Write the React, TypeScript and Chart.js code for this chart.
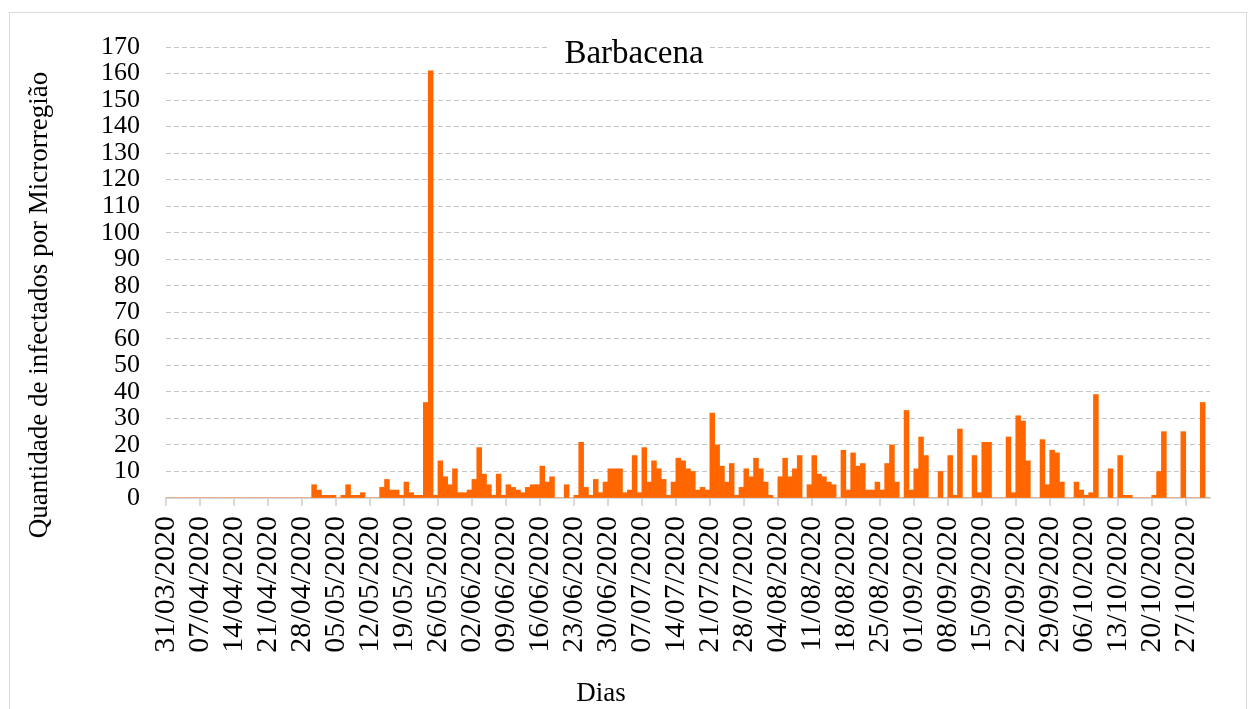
import React, { useEffect, useRef } from 'react';
import { Chart, registerables } from 'chart.js';

Chart.register(...registerables);

// ---- Data (daily new infections, Barbacena micro-region) ----
const march31 = [0];
const april = [
  0, 0, 0, 0, 0, 0, 0, 0, 0, 0, 0, 0, 0, 0, 0, 0, 0, 0, 0, 0, 0, 0, 0, 0, 0, 0, 0, 0, 0, 5,
];
const may = [
  3, 1, 1, 1, 0, 1, 5, 1, 1, 2, 0, 0, 0, 4, 7, 3, 3, 1, 6, 2, 1, 1, 36, 161, 1, 14, 8, 5, 11, 2, 2,
];
const june = [
  3, 7, 19, 9, 5, 1, 9, 1, 5, 4, 3, 2, 4, 5, 5, 12, 6, 8, 0, 0, 5, 0, 1, 21, 4, 1, 7, 2, 6, 11,
];
const july = [
  11, 11, 2, 3, 16, 2, 19, 6, 14, 11, 7, 1, 6, 15, 14, 11, 10, 3, 4, 3, 32, 20, 12, 6, 13, 1, 4, 11, 8, 15, 11,
];
const august = [
  6, 1, 0, 8, 15, 8, 11, 16, 0, 5, 16, 9, 8, 6, 5, 0, 18, 3, 17, 12, 13, 3, 3, 6, 3, 13, 20, 6, 0, 33, 3,
];
const september = [
  11, 23, 16, 0, 0, 10, 0, 16, 1, 26, 0, 0, 16, 2, 21, 21, 0, 0, 0, 23, 2, 31, 29, 14, 0, 0, 22, 5, 18, 17,
];
const october = [
  6, 0, 0, 6, 3, 1, 2, 39, 0, 0, 11, 0, 16, 1, 1, 0, 0, 0, 0, 1, 10, 25, 0, 0, 0, 25, 0, 0, 0, 36, 0,
];

const weekTickLabels = [
  '31/03/2020', '07/04/2020', '14/04/2020', '21/04/2020', '28/04/2020',
  '05/05/2020', '12/05/2020', '19/05/2020', '26/05/2020', '02/06/2020',
  '09/06/2020', '16/06/2020', '23/06/2020', '30/06/2020', '07/07/2020',
  '14/07/2020', '21/07/2020', '28/07/2020', '04/08/2020', '11/08/2020',
  '18/08/2020', '25/08/2020', '01/09/2020', '08/09/2020', '15/09/2020',
  '22/09/2020', '29/09/2020', '06/10/2020', '13/10/2020', '20/10/2020',
  '27/10/2020',
];

const yTicks = { min: 0, max: 170, step: 10 };

const chartTitle = 'Barbacena';
const xTitle = 'Dias';
const yTitle = 'Quantidade de infectados por Microrregião';

const values = [...march31, ...april, ...may, ...june, ...july, ...august, ...september, ...october];

function buildDayLabels(n: number): string[] {
  const out: string[] = [];
  const d = new Date(Date.UTC(2020, 2, 31));
  for (let i = 0; i < n; i++) {
    const dd = String(d.getUTCDate()).padStart(2, '0');
    const mm = String(d.getUTCMonth() + 1).padStart(2, '0');
    out.push(`${dd}/${mm}/${d.getUTCFullYear()}`);
    d.setUTCDate(d.getUTCDate() + 1);
  }
  return out;
}

const dayLabels = buildDayLabels(values.length);
const tickSet = new Set(weekTickLabels);

const FONT = "'Liberation Serif', 'Times New Roman', serif";

const titlesPlugin = {
  id: 'customTitles',
  afterDraw(chart: any) {
    const ctx = chart.ctx as CanvasRenderingContext2D;
    ctx.save();
    ctx.fillStyle = '#ffffff';
    ctx.fillRect(548, 36, 160, 32);
    ctx.fillStyle = '#000000';
    ctx.textAlign = 'center';
    ctx.textBaseline = 'alphabetic';
    ctx.font = `33px ${FONT}`;
    ctx.fillText(chartTitle, 634, 63);
    ctx.font = `27px ${FONT}`;
    ctx.fillText(xTitle, 601, 701);
    ctx.translate(47, 305);
    ctx.rotate(-Math.PI / 2);
    ctx.fillText(yTitle, 0, 0);
    ctx.restore();
  },
};

export default function App() {
  const canvasRef = useRef<HTMLCanvasElement | null>(null);

  useEffect(() => {
    if (!canvasRef.current) return;
    const chart = new Chart(canvasRef.current, {
      type: 'bar',
      data: {
        labels: dayLabels,
        datasets: [
          {
            data: values,
            backgroundColor: '#FF6600',
            borderWidth: 0,
            barPercentage: 1,
            categoryPercentage: 1,
          },
        ],
      },
      options: {
        animation: false,
        responsive: false,
        devicePixelRatio: 1,
        layout: { padding: { top: 47, right: 46, bottom: 0, left: 0 } },
        plugins: {
          legend: { display: false },
          tooltip: { enabled: false },
          title: { display: false },
        },
        scales: {
          x: {
            type: 'category',
            offset: true,
            grid: {
              offset: true,
              drawOnChartArea: false,
              drawTicks: true,
              tickLength: 8,
              lineWidth: 2,
              color: (c: any) => {
                const lbl = dayLabels[c.index];
                return lbl && tickSet.has(lbl) ? '#d9d9d9' : 'rgba(0,0,0,0)';
              },
            },
            border: { display: true, color: '#d9d9d9', width: 2 },
            ticks: {
              autoSkip: false,
              minRotation: 90,
              maxRotation: 90,
              padding: 10,
              labelOffset: -2.43,
              color: '#000000',
              font: { family: FONT, size: 30 },
              callback: (_v: any, idx: number) => (tickSet.has(dayLabels[idx]) ? dayLabels[idx] : ''),
            },
            afterFit: (scale: any) => {
              scale.height = 211;
            },
          },
          y: {
            min: yTicks.min,
            max: yTicks.max,
            grid: {
              drawTicks: false,
              color: '#c4c4c4',
              lineWidth: 1,
            },
            border: { display: false, dash: [5, 3] },
            ticks: {
              stepSize: yTicks.step,
              autoSkip: false,
              padding: 26,
              color: '#000000',
              font: { family: FONT, size: 26 },
            },
            afterFit: (scale: any) => {
              scale.width = 166;
            },
          },
        },
      },
      plugins: [titlesPlugin],
    });
    return () => chart.destroy();
  }, []);

  return (
    <div style={{ position: 'fixed', left: 0, top: 0, width: 1256, height: 709, background: '#ffffff', overflow: 'hidden' }}>
      <div
        style={{
          position: 'absolute',
          left: 9,
          top: 12,
          width: 1238,
          height: 720,
          border: '1px solid #d9d9d9',
          boxSizing: 'border-box',
        }}
      />
      <canvas ref={canvasRef} width={1256} height={709} style={{ position: 'absolute', left: 0, top: 0, width: 1256, height: 709 }} />
    </div>
  );
}
